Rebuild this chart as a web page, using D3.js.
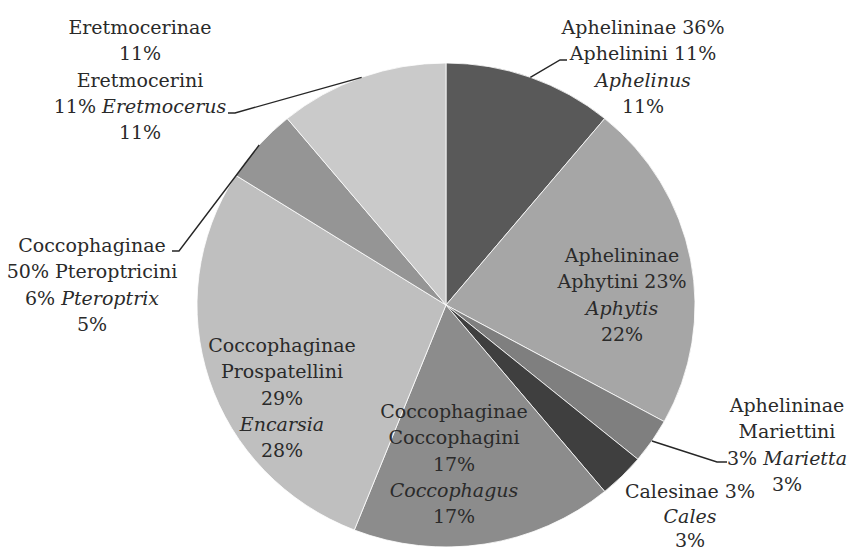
<!DOCTYPE html>
<html><head><meta charset="utf-8">
<script src="https://cdn.jsdelivr.net/npm/d3@7"></script>
<style>
body{margin:0;background:#fff}svg{display:block}
</style>
</head><body>
<svg id="chart" width="850" height="556"></svg>
<script>
// ---- data ----
const genera = ["Aphelinus","Aphytis","Marietta","Cales","Coccophagus","Encarsia","Pteroptrix","Eretmocerus"];
const values = [11,22,3,3,17,28,5,11];
const sliceColors = ["#595959","#a6a6a6","#7f7f7f","#3f3f3f","#8c8c8c","#bfbfbf","#959595","#cacaca"];
const labelTexts = [
  ["Aphelininae 36%","Aphelinini 11%","*Aphelinus*","11%"],
  ["Aphelininae","Aphytini 23%","*Aphytis*","22%"],
  ["Aphelininae","Mariettini","3% *Marietta*","3%"],
  ["Calesinae 3%","*Cales*","3%"],
  ["Coccophaginae","Coccophagini","17%","*Coccophagus*","17%"],
  ["Coccophaginae","Prospatellini","29%","*Encarsia*","28%"],
  ["Coccophaginae","50% Pteroptricini","6% *Pteroptrix*","5%"],
  ["Eretmocerinae","11%","Eretmocerini","11% *Eretmocerus*","11%"]
];

// ---- layout ----
const cx = 446, cy = 305, r = 242, sx = 249/242;
const lineH = 26.3;
const labelPos = [
  {x:643, y:34, leader:[[567,60],[560,60]]},
  {x:622, y:262},
  {x:787, y:412, leader:[[727,462],[717,462]]},
  {x:690, y:498, lh:24.5},
  {x:454, y:418},
  {x:282, y:352},
  {x:92,  y:252, leader:[[172,251],[179,251]]},
  {x:140, y:34,  leader:[[228,113],[235,113]]}
];

const svg = d3.select("#chart");
const pie = d3.pie().sort(null).value(d => d)(values);
const arc = d3.arc().innerRadius(0).outerRadius(r);

const g = svg.append("g").attr("transform", `translate(${cx},${cy}) scale(${sx},1)`);
g.selectAll("path").data(pie).join("path")
  .attr("d", arc)
  .attr("fill", (d,i) => sliceColors[i])
  .attr("stroke", "#ffffff")
  .attr("stroke-width", 0.8)
  .attr("vector-effect", "non-scaling-stroke");

// leaders
const line = d3.line();
pie.forEach((d,i) => {
  const lp = labelPos[i];
  if (!lp.leader) return;
  const a = (d.startAngle + d.endAngle)/2;
  const edge = [cx + r*sx*Math.sin(a), cy - r*Math.cos(a)];
  svg.append("path")
    .attr("d", line([...lp.leader, edge]))
    .attr("fill", "none")
    .attr("stroke", "#262626")
    .attr("stroke-width", 1.4);
});

// labels
const labels = svg.append("g").attr("text-anchor", "middle");

labelTexts.forEach((lines, i) => {
  const lp = labelPos[i];
  const lh = lp.lh || lineH;
  lines.forEach((ln, k) => {
    const t = labels.append("text")
      .attr("font-family", "DejaVu Serif")
      .attr("font-size", 19)
      .attr("fill", "#2a2a2a")
      .attr("x", lp.x)
      .attr("y", lp.y + k*lh);
    const parts = ln.split("*");
    parts.forEach((p, j) => {
      if (!p) return;
      t.append("tspan").text(p).attr("font-style", j % 2 === 1 ? "italic" : "normal");
    });
  });
});
</script>
</body></html>
